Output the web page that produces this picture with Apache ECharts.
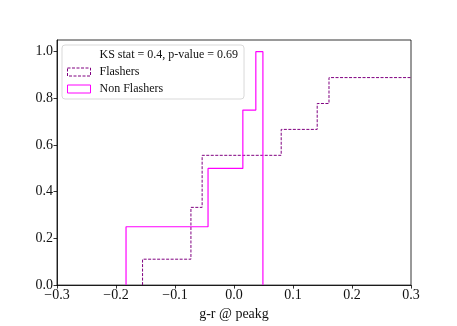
<!DOCTYPE html>
<html>
<head>
<meta charset="utf-8">
<script src="https://cdn.jsdelivr.net/npm/echarts@6/dist/echarts.min.js"></script>
<style>
  html, body { margin: 0; padding: 0; background: #fff; }
  #chart { width: 457px; height: 326px; }
</style>
</head>
<body>
<div id="chart"></div>
<script>
  // bin edges where the cumulative fraction steps up, and the fraction after each step
  const flasherEdges = [-0.155, -0.073, -0.054, 0.080, 0.141, 0.161, 0.36]
  const flasherCum = [0.111, 0.333, 0.556, 0.667, 0.778, 0.889]
  const nonFlasherEdges = [-0.183, -0.044, 0.015, 0.037, 0.049]
  const nonFlasherCum = [0.25, 0.5, 0.75, 1.0]
  const xTicks = [-0.3, -0.2, -0.1, 0.0, 0.1, 0.2, 0.3]
  const yTicks = [0.0, 0.2, 0.4, 0.6, 0.8, 1.0]
  const ksLabel = 'KS stat = 0.4, p-value = 0.69'

  const FONT = 'Liberation Serif'

  // step 'start' path: (e0,0) -> (e1,c0) -> (e2,c1) ... then back to 0
  const stepData = (edges, cum) => {
    const pts = [[edges[0], 0]]
    cum.forEach((c, i) => pts.push([edges[i + 1], c]))
    pts.push([edges[edges.length - 1], 0])
    return pts
  }

  const fmtMinus = (v) => {
    const s = Math.abs(v).toFixed(1)
    return v < -1e-9 ? '\u2212' + s : s
  }

  const chart = echarts.init(document.getElementById('chart'))
  chart.setOption({
    animation: false,
    textStyle: { fontFamily: FONT },
    grid: {
      left: 57, right: 46, top: 40, bottom: 36,
      show: true, borderColor: '#000', borderWidth: 0.8
    },
    legend: {
      orient: 'vertical',
      left: 62, top: 45,
      padding: [4, 6, 4, 5],
      itemGap: 5,
      itemWidth: 23, itemHeight: 8,
      backgroundColor: 'rgba(255,255,255,0.8)',
      borderColor: '#d9d9d9', borderWidth: 1, borderRadius: 3,
      selectedMode: false,
      textStyle: { fontFamily: FONT, fontSize: 12, color: '#111', padding: [0, 0, 0, 4] },
      data: [
        { name: ksLabel, icon: 'rect', itemStyle: { color: 'transparent', borderWidth: 0, opacity: 0 } },
        { name: 'Flashers', icon: 'rect', itemStyle: { color: 'transparent', borderColor: '#800080', borderWidth: 1, borderType: [3, 1.5] } },
        { name: 'Non Flashers', icon: 'rect', itemStyle: { color: 'transparent', borderColor: '#ff00ff', borderWidth: 1 } }
      ]
    },
    xAxis: {
      type: 'value',
      min: -0.3, max: 0.3,
      name: 'g-r @ peakg',
      nameLocation: 'middle',
      nameGap: 21,
      nameTextStyle: { fontFamily: FONT, fontSize: 14, color: '#111' },
      splitLine: { show: false },
      axisLine: { onZero: false, lineStyle: { color: '#000', width: 0.8 } },
      axisTick: { customValues: xTicks, length: 3.5, lineStyle: { color: '#000', width: 0.8 } },
      axisLabel: { customValues: xTicks, formatter: fmtMinus, fontFamily: FONT, fontSize: 14, color: '#111', margin: 3 }
    },
    yAxis: {
      type: 'value',
      min: 0, max: 1.05,
      splitLine: { show: false },
      axisLine: { show: true, onZero: false, lineStyle: { color: '#000', width: 0.8 } },
      axisTick: { show: true, customValues: yTicks, length: 3.5, lineStyle: { color: '#000', width: 0.8 } },
      axisLabel: { customValues: yTicks, formatter: (v) => v.toFixed(1), fontFamily: FONT, fontSize: 14, color: '#111', margin: 4 }
    },
    series: [
      {
        name: ksLabel,
        type: 'line',
        data: []
      },
      {
        name: 'Flashers',
        type: 'line',
        step: 'start',
        symbol: 'none',
        clip: true,
        data: stepData(flasherEdges, flasherCum),
        lineStyle: { color: '#800080', width: 1, type: [3, 1.5] },
        itemStyle: { color: '#800080' }
      },
      {
        name: 'Non Flashers',
        type: 'line',
        step: 'start',
        symbol: 'none',
        clip: true,
        data: stepData(nonFlasherEdges, nonFlasherCum),
        lineStyle: { color: '#ff00ff', width: 1.2 },
        itemStyle: { color: '#ff00ff' }
      }
    ]
  })
</script>
</body>
</html>
